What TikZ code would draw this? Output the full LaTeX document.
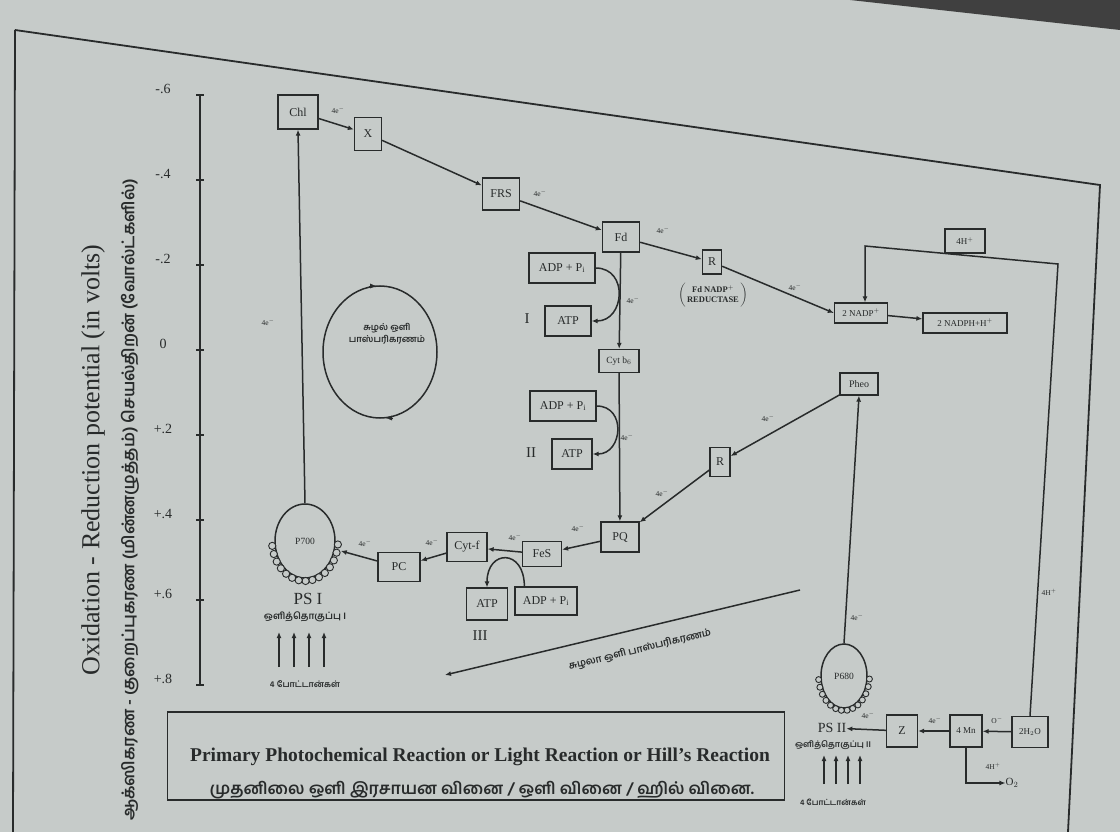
\documentclass[tikz,border=0pt]{standalone}
\usepackage{fontspec}
\setmainfont{Liberation Serif}
\newfontfamily\tam[Script=Tamil]{Hind Madurai}
\usetikzlibrary{arrows.meta,shapes.geometric}
\definecolor{paper}{RGB}{198,203,201}
\definecolor{ink}{RGB}{40,43,43}
\begin{document}
\begin{tikzpicture}[x=1pt,y=-1pt,
  box/.style={draw=ink,line width=1.3pt,fill=paper,text=ink,inner sep=1pt,font=\fontsize{12}{14}\selectfont},
  el/.style={text=ink,font=\fontsize{7.5}{8}\selectfont,inner sep=0pt},
  conn/.style={draw=ink,line width=1.5pt,-{Latex[length=6pt,width=5pt]}},
  ln/.style={draw=ink,line width=1.5pt},
  txt/.style={text=ink,inner sep=0pt},
  tl/.style={text=ink,inner sep=0pt,font=\tam\bfseries\fontsize{9.5}{11}\selectfont},
  psys/.style={draw=ink,line width=1.5pt,ellipse,inner sep=0pt,text=ink,font=\fontsize{9.5}{10}\selectfont},
]
\useasboundingbox (0,0) rectangle (1120,832);
\fill[paper] (0,0) rectangle (1120,832);
\fill[black!75] (850,0) -- (1120,0) -- (1120,30) -- cycle;
% page frame
\draw[ln,line width=1.8pt] (15,30) -- (13,832);
\draw[ln,line width=1.8pt] (15,30) -- (1100,185) -- (1068,832);

% axis
\draw[ln,line width=1.6pt] (200,95) -- (200,685);
\foreach \y/\t in {95/-.6,180/-.4,265/-.2,350/0,435/+.2,520/+.4,600/+.6,685/+.8}{
  \draw[ln] (196,\y) -- (204,\y);
  \node[txt,font=\fontsize{14}{16}\selectfont] at (163,\y-6) {\t};
}
\node[txt,rotate=90,font=\fontsize{26}{28}\selectfont] (yen) at (93,460) {Oxidation - Reduction potential (in volts)};
\node[txt,rotate=90,font=\tam\bfseries\fontsize{16.5}{18}\selectfont] (yta) at (130,500) {ஆக்ஸிகரண - குறைப்புகரண (மின்னழுத்தம்) செயல்திறன் (வோல்ட்களில்)};

% PS I chain boxes
\node[box,minimum width=40,minimum height=34] (Chl) at (298,112) {Chl};
\node[box,minimum width=27,minimum height=33] (X) at (368,134) {X};
\node[box,minimum width=37,minimum height=32] (FRS) at (501,194) {FRS};
\node[box,minimum width=37,minimum height=30] (Fd) at (621,237) {Fd};
\node[box,minimum width=19,minimum height=24] (R1) at (712,262) {R};
\node[txt,font=\bfseries\fontsize{8.5}{10}\selectfont] (red) at (713,295) {$\left(\begin{tabular}{@{\,}c@{\,}}Fd NADP$^+$\\REDUCTASE\end{tabular}\right)$};
\node[box,minimum width=53,minimum height=20,font=\fontsize{9}{10}\selectfont] (nadp) at (861,313) {2 NADP$^+$};
\node[box,minimum width=84,minimum height=20,font=\fontsize{9}{10}\selectfont] (nadph) at (965,323) {2 NADPH+H$^+$};
\node[box,minimum width=40,minimum height=24,font=\fontsize{9}{10}\selectfont] (H4) at (965,241) {4H$^+$};

% cyclic part
\node[box,minimum width=66,minimum height=30] (adp1) at (562,268) {ADP + P$_\mathrm{i}$};
\node[box,minimum width=46,minimum height=30] (atp1) at (568,321) {ATP};
\node[box,minimum width=40,minimum height=23,font=\fontsize{9.5}{10}\selectfont] (cytb) at (619,361) {Cyt b$_6$};
\node[box,minimum width=66,minimum height=30] (adp2) at (563,406) {ADP + P$_\mathrm{i}$};
\node[box,minimum width=40,minimum height=30] (atp2) at (572,454) {ATP};
\node[box,minimum width=38,minimum height=30] (PQ) at (620,537) {PQ};
\node[box,minimum width=39,minimum height=25] (FeS) at (542,554) {FeS};
\node[box,minimum width=40,minimum height=29] (cytf) at (467,547) {Cyt-f};
\node[box,minimum width=42,minimum height=29] (PC) at (399,567) {PC};
\node[box,minimum width=41,minimum height=32] (atp3) at (487,604) {ATP};
\node[box,minimum width=62,minimum height=28] (adp3) at (546,601) {ADP + P$_\mathrm{i}$};
\node[txt,font=\fontsize{15}{16}\selectfont] (n1) at (527,319) {I};
\node[txt,font=\fontsize{15}{16}\selectfont] (n2) at (531,453) {II};
\node[txt,font=\fontsize{15}{16}\selectfont] (n3) at (480,636) {III};

% PS II side
\node[box,minimum width=38,minimum height=22,font=\fontsize{10}{11}\selectfont] (pheo) at (859,384) {Pheo};
\node[box,minimum width=20,minimum height=29] (R2) at (720,462) {R};
\node[box,minimum width=31,minimum height=32] (Z) at (902,731) {Z};
\node[box,minimum width=32,minimum height=32,font=\fontsize{9}{10}\selectfont] (Mn) at (966,731) {4 Mn};
\node[box,minimum width=36,minimum height=31,font=\fontsize{9}{10}\selectfont] (H2O) at (1030,732) {2H$_2$O};

% photosystems
\node[psys,minimum width=60,minimum height=74] (P700) at (305,541) {P700};
\foreach \a in {5,17,...,177} \draw[ink,line width=0.9pt,fill=paper] ({305+33*cos(\a)},{541+40*sin(\a)}) circle[radius=3.6];
\node[psys,minimum width=46,minimum height=64] (P680) at (844,676) {P680};
\foreach \a in {5,18,...,177} \draw[ink,line width=0.9pt,fill=paper] ({844+25.5*cos(\a)},{676+34.5*sin(\a)}) circle[radius=3];

\node[txt,font=\fontsize{17}{18}\selectfont] (ps1) at (308,599) {PS I};
\node[tl] (ps1t) at (305,617) {ஒளித்தொகுப்பு I};
\foreach \x in {279,294,309,324} \draw[conn] (\x,667) -- (\x,632);
\node[tl,font=\tam\bfseries\fontsize{8.5}{9}\selectfont] (ph1) at (305,684) {4 போட்டான்கள்};

\node[txt,font=\fontsize{14}{15}\selectfont] (ps2) at (832,728) {PS II};
\node[tl,font=\tam\bfseries\fontsize{8.5}{9}\selectfont] (ps2t) at (833,745) {ஒளித்தொகுப்பு II};
\foreach \x in {824,836,848,860} \draw[conn] (\x,784) -- (\x,755);
\node[tl,font=\tam\bfseries\fontsize{8}{9}\selectfont] (ph2) at (833,802) {4 போட்டான்கள்};

% cyclic loop
\draw[ln] (380,352) ellipse [x radius=57, y radius=66];
\draw[ink,-{Latex[length=6pt,width=5pt]}] (369,286) -- (376,286);
\draw[ink,-{Latex[length=6pt,width=5pt]}] (393,418) -- (386,418);
\node[tl,align=center,font=\tam\bfseries\fontsize{9}{12}\selectfont] (cyc) at (387,334) {சுழல் ஒளி\\பாஸ்பரிகரணம்};

% non-cyclic line
\coordinate (nc1) at (445,675);
\coordinate (nc2) at (800,590);
\draw[ln,{Latex[length=6pt,width=5pt]}-] (nc1) -- (nc2);
\node[tl,rotate=13.5,font=\tam\bfseries\fontsize{10}{11}\selectfont] (ncl) at (640,650) {சுழலா ஒளி பாஸ்பரிகரணம்};

% connectors
\draw[conn] (Chl) -- (X);
\draw[conn] (X) -- (FRS);
\draw[conn] (FRS) -- (Fd);
\draw[conn] (Fd) -- (R1);
\draw[conn] (R1) -- (nadp.west);
\draw[conn] (nadp) -- (nadph);
\draw[conn] (Fd) -- (cytb);
\draw[conn] (cytb) -- (PQ);
\draw[conn] (adp1.east) to[out=0,in=0,looseness=1.6] (atp1.east);
\draw[conn] (adp2.east) to[out=0,in=0,looseness=1.6] (atp2.east);
\draw[conn] ([xshift=10pt]adp3.north west) to[out=90,in=90,looseness=2.6] (atp3.north);
\draw[conn] (pheo) -- (R2);
\draw[conn] (R2) -- (PQ);
\draw[conn] (PQ) -- (FeS);
\draw[conn] (FeS) -- (cytf);
\draw[conn] (cytf) -- (PC);
\draw[conn,shorten >=6pt] (PC) -- (P700);
\draw[conn] (P700.north) -- (Chl.south);
\draw[conn] (P680.north) -- (pheo.south);
\draw[conn] (Z) -- (ps2);
\draw[conn] (Mn) -- (Z);
\draw[conn] (H2O) -- (Mn);
\node[txt,font=\fontsize{11}{12}\selectfont] (o2) at (1012,783) {O$_2$};
\draw[conn] (Mn.south) |- (o2.west);
\coordinate (rtop) at (1058,264);
\coordinate (ltop) at (865,246);
\draw[conn] (H2O.north) -- (rtop) -- (ltop) -- (ltop |- nadp.north);

% electron labels
\foreach \p in {(338,110),(540,193),(663,230),(795,287),(633,300),(627,437),(768,418),(662,493),(578,528),(515,537),(432,542),(365,543),(268,322),(857,617),(868,715),(935,720)}
  \node[el] at \p {4e$^-$};
\node[el] at (997,720) {O$^-$};
\node[el] at (993,766) {4H$^+$};
\node[el] at (1049,592) {4H$^+$};

% title box
\node[draw=ink,line width=1.6pt,minimum width=617,minimum height=88,inner sep=0pt] (tbox) at (476,756) {};
\node[txt,font=\fontsize{19.5}{22}\selectfont\bfseries] (t1) at (480,757) {Primary Photochemical Reaction or Light Reaction or Hill's Reaction};
\node[txt,font=\tam\bfseries\fontsize{16.5}{18}\selectfont] (t2) at (482,790) {முதனிலை ஒளி இரசாயன வினை / ஒளி வினை / ஹில் வினை.};
\end{tikzpicture}
\end{document}
